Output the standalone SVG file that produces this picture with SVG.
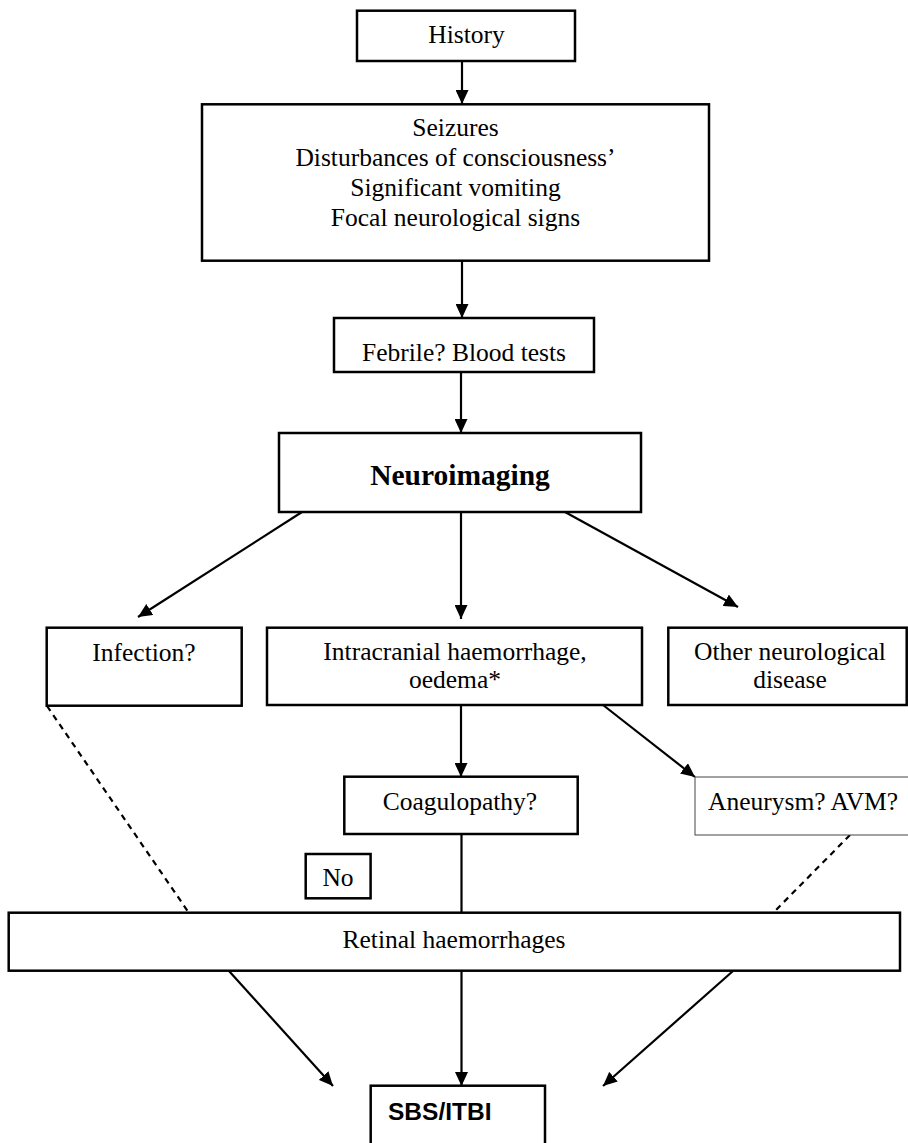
<svg xmlns="http://www.w3.org/2000/svg" width="908" height="1143" viewBox="0 0 908 1143">
<style>
.box{fill:#fff;stroke:#000;stroke-width:2.5}
.thin{fill:#fff;stroke:#444;stroke-width:1}
.t{font-family:"Liberation Serif","Times New Roman",serif;font-size:25.5px;fill:#000;text-anchor:middle}
.b{font-weight:bold;font-size:29.5px}
.s{font-family:"Liberation Sans",Arial,sans-serif;font-weight:bold;font-size:24.5px;fill:#000}
.c{stroke:#000;stroke-width:2.2;fill:none}
.a{marker-end:url(#ah)}
.d{stroke-dasharray:6 5}
</style>
<defs>
<marker id="ah" markerUnits="userSpaceOnUse" markerWidth="14" markerHeight="13" refX="14" refY="6.5" orient="auto">
<path d="M0,0 L14,6.5 L0,13 z" fill="#000"/>
</marker>
</defs>
<rect width="908" height="1143" fill="#fff"/>
<g id="connectors">
<line class="c a" x1="462" y1="61" x2="462" y2="104"/>
<line class="c a" x1="462" y1="261" x2="462" y2="318"/>
<line class="c a" x1="461" y1="372" x2="461" y2="433"/>
<line class="c a" x1="302" y1="512" x2="138" y2="617"/>
<line class="c a" x1="461" y1="512" x2="461" y2="619"/>
<line class="c a" x1="565" y1="512" x2="738" y2="607"/>
<line class="c a" x1="461" y1="705" x2="461" y2="777"/>
<line class="c a" x1="603" y1="705" x2="695" y2="777"/>
<line class="c" x1="461.5" y1="834" x2="461.5" y2="913"/>
<line class="c d" x1="47" y1="706" x2="189" y2="913"/>
<line class="c d" x1="850" y1="835" x2="773" y2="913"/>
<line class="c a" x1="461.5" y1="971" x2="461.5" y2="1086"/>
<line class="c a" x1="229" y1="971" x2="333" y2="1086"/>
<line class="c a" x1="733" y1="971" x2="603" y2="1086"/>
</g>
<g id="history"><rect class="box" x="357" y="10.7" width="218" height="50.3"/><text class="t" x="466.5" y="43">History</text></g>
<g id="symptoms"><rect class="box" x="202" y="104.3" width="507" height="156.4"/>
<text class="t" x="455.5" y="136">Seizures</text>
<text class="t" x="455.5" y="166">Disturbances of consciousness’</text>
<text class="t" x="455.5" y="196">Significant vomiting</text>
<text class="t" x="455.5" y="226">Focal neurological signs</text></g>
<g id="febrile"><rect class="box" x="334" y="318" width="260" height="54"/><text class="t" x="464" y="361">Febrile? Blood tests</text></g>
<g id="neuroimaging"><rect class="box" x="279" y="433" width="362" height="79"/><text class="t b" x="460" y="485">Neuroimaging</text></g>
<g id="infection"><rect class="box" x="46.7" y="627.7" width="195" height="78"/><text class="t" x="144" y="660.7">Infection?</text></g>
<g id="haemorrhage"><rect class="box" x="267" y="627.7" width="375" height="77.3"/><text class="t" x="455" y="660">Intracranial haemorrhage,</text><text class="t" x="455" y="688">oedema*</text></g>
<g id="other"><rect class="box" x="668.3" y="627.7" width="238.4" height="77.3"/><text class="t" x="790" y="660">Other neurological</text><text class="t" x="790" y="688">disease</text></g>
<g id="coagulopathy"><rect class="box" x="344.3" y="776.7" width="233.4" height="57.3"/><text class="t" x="460" y="810">Coagulopathy?</text></g>
<g id="aneurysm"><rect class="thin" x="695" y="777" width="220" height="58"/><text class="t" x="708" y="810" style="text-anchor:start">Aneurysm? AVM?</text></g>
<g id="no"><rect class="box" x="305.7" y="854" width="64.9" height="44.3"/><text class="t" x="338" y="886">No</text></g>
<g id="retinal"><rect class="box" x="8.7" y="912.7" width="891.3" height="58"/><text class="t" x="454" y="948">Retinal haemorrhages</text></g>
<g id="sbs"><rect class="box" x="370.7" y="1085.7" width="174.3" height="70"/><text class="s" x="388" y="1120">SBS/ITBI</text></g>
</svg>
